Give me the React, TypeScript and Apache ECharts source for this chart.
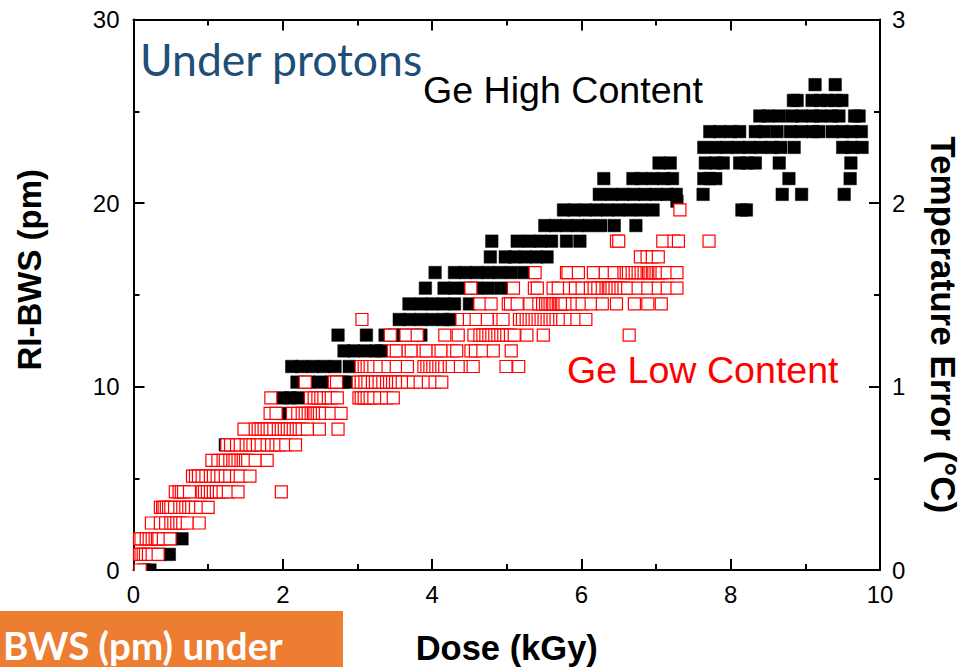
import React, { useEffect, useRef } from "react";
import * as echarts from "echarts";

const rowLevels = [0, 0.85, 1.7, 2.56, 3.41, 4.26, 5.12, 5.97, 6.82, 7.68, 8.53, 9.38, 10.24, 11.09, 11.94, 12.8, 13.65, 14.5, 15.36, 16.21, 17.06, 17.92, 18.77, 19.62, 20.47, 21.33, 22.18, 23.03, 23.89, 24.74, 25.59, 26.45];

const highDose: number[][] = [
  [0.14, 0.22],
  [0.35, 0.48],
  [0.5, 0.65],
  [], [], [], [], [],
  [1.23],
  [1.7, 1.9, 2.05],
  [2.0],
  [2.0, 2.1, 2.2],
  [2.19, 2.35, 2.5, 2.65, 2.8, 2.85],
  [2.12, 2.25, 2.4, 2.55, 2.7, 2.89],
  [2.82, 2.95, 3.1, 3.25, 3.32],
  [2.74, 3.12, 3.37, 3.5, 3.6, 3.75, 3.85],
  [3.56, 3.7, 3.85, 4.0, 4.15, 4.24],
  [3.69, 3.85, 4.0, 4.15, 4.3, 4.5],
  [3.91, 4.16, 4.3, 4.45, 4.6, 4.75, 4.92],
  [4.04, 4.3, 4.45, 4.6, 4.75, 4.9, 5.06, 5.23],
  [4.78, 4.98, 5.1, 5.25, 5.4, 5.54],
  [4.8, 5.14, 5.3, 5.45, 5.6, 5.8, 5.98],
  [5.51, 5.65, 5.8, 5.95, 6.1, 6.26, 6.44, 6.73],
  [5.76, 5.9, 6.05, 6.2, 6.35, 6.5, 6.65, 6.8, 6.96, 8.15, 8.21],
  [6.24, 6.4, 6.55, 6.7, 6.85, 7.0, 7.15, 7.27, 7.63, 8.69, 8.95, 9.52],
  [6.3, 6.69, 6.8, 6.95, 7.1, 7.22, 7.64, 7.72, 7.8, 8.78, 9.6],
  [7.04, 7.19, 7.66, 7.8, 7.9, 8.12, 8.22, 8.33, 8.65, 9.61],
  [7.64, 7.8, 7.95, 8.1, 8.25, 8.4, 8.55, 8.67, 8.85, 9.5, 9.62, 9.76],
  [7.72, 7.85, 8.0, 8.12, 8.33, 8.45, 8.62, 8.8, 8.95, 9.1, 9.18, 9.36, 9.5, 9.62, 9.75],
  [8.39, 8.5, 8.65, 8.82, 8.95, 9.1, 9.2, 9.35, 9.45, 9.66, 9.72],
  [8.84, 8.89, 9.09, 9.2, 9.3, 9.4, 9.49],
  [9.13, 9.4],
];

const highExtraDose = [7.28];
const highExtraLevel = [20.1];

const lowDose: number[][] = [
  [0.09],
  [0.08, 0.1, 0.13, 0.16, 0.2, 0.25, 0.33],
  [0.08, 0.1, 0.17, 0.21, 0.25, 0.29, 0.32, 0.34, 0.4, 0.49],
  [0.24, 0.36, 0.43, 0.5, 0.54, 0.58, 0.62, 0.66, 0.72, 0.88],
  [0.36, 0.39, 0.41, 0.44, 0.47, 0.5, 0.55, 0.62, 0.66, 0.7, 0.74, 0.78, 0.83, 0.9, 1.0],
  [0.56, 0.61, 0.64, 0.67, 0.75, 0.92, 0.95, 0.99, 1.03, 1.07, 1.11, 1.15, 1.2, 1.27, 1.4, 1.98],
  [0.79, 0.83, 0.87, 0.92, 0.97, 1.03, 1.07, 1.12, 1.17, 1.23, 1.29, 1.38, 1.43, 1.56],
  [1.05, 1.13, 1.2, 1.23, 1.29, 1.33, 1.36, 1.4, 1.44, 1.47, 1.5, 1.53, 1.63, 1.79],
  [1.25, 1.3, 1.38, 1.43, 1.51, 1.56, 1.6, 1.66, 1.71, 1.79, 1.85, 1.91, 1.96, 2.04, 2.17],
  [1.48, 1.63, 1.67, 1.71, 1.75, 1.79, 1.83, 1.88, 1.94, 1.98, 2.02, 2.06, 2.1, 2.14, 2.18, 2.22, 2.26, 2.33, 2.49, 2.74],
  [1.83, 1.91, 2.13, 2.2, 2.26, 2.3, 2.34, 2.38, 2.41, 2.43, 2.46, 2.49, 2.53, 2.57, 2.65, 2.78],
  [1.84, 2.37, 2.42, 2.47, 2.51, 2.55, 2.61, 2.65, 2.73, 3.02, 3.05, 3.09, 3.13, 3.17, 3.22, 3.3, 3.39, 3.48],
  [2.3, 2.69, 2.72, 3.01, 3.05, 3.1, 3.14, 3.2, 3.24, 3.29, 3.34, 3.39, 3.43, 3.47, 3.51, 3.55, 3.6, 3.67, 3.75, 3.84, 3.95, 4.04, 4.13],
  [3.05, 3.09, 3.13, 3.17, 3.22, 3.3, 3.41, 3.52, 3.67, 3.89, 3.93, 3.97, 4.01, 4.05, 4.09, 4.13, 4.17, 4.23, 4.27, 4.38, 4.51, 4.55, 4.99, 5.16],
  [3.48, 3.52, 3.68, 3.72, 3.88, 3.92, 4.08, 4.12, 4.28, 4.33, 4.52, 4.58, 4.68, 4.82, 5.06],
  [3.44, 3.65, 3.8, 4.17, 4.35, 4.56, 4.64, 4.68, 4.72, 4.76, 4.8, 4.84, 4.88, 4.92, 4.96, 5.0, 5.05, 5.1, 5.27, 5.49, 6.64],
  [3.06, 4.4, 4.5, 4.59, 4.74, 4.9, 4.95, 5.17, 5.21, 5.26, 5.3, 5.34, 5.38, 5.42, 5.46, 5.5, 5.54, 5.58, 5.62, 5.66, 5.71, 5.75, 5.85, 5.94, 6.06],
  [4.64, 4.79, 5.02, 5.05, 5.14, 5.31, 5.43, 5.48, 5.52, 5.55, 5.58, 5.61, 5.63, 5.66, 5.69, 5.71, 5.73, 5.75, 5.78, 5.88, 5.94, 6.01, 6.13, 6.28, 6.47, 6.71, 6.89, 7.07],
  [4.52, 5.09, 5.37, 5.41, 5.62, 5.69, 5.84, 5.92, 6.01, 6.12, 6.17, 6.22, 6.28, 6.33, 6.36, 6.38, 6.41, 6.45, 6.49, 6.53, 6.57, 6.62, 6.76, 6.89, 7.03, 7.15, 7.28],
  [5.38, 5.8, 5.82, 5.96, 6.16, 6.32, 6.44, 6.57, 6.6, 6.63, 6.68, 6.72, 6.76, 6.8, 6.84, 6.88, 6.9, 6.92, 6.95, 6.97, 7.0, 7.03, 7.05, 7.08, 7.15, 7.28],
  [6.79, 6.88, 6.95, 7.03],
  [6.47, 6.5, 7.09, 7.24, 7.3, 7.71],
  [],
  [7.32],
];

const xTicks = { min: 0, max: 10, interval: 2 };
const leftTicks = { min: 0, max: 30, interval: 10 };
const rightTicks = { min: 0, max: 3, interval: 1 };

const toPoints = (rows: number[][]) =>
  rows.flatMap((doses, i) => doses.map((d) => [d, rowLevels[i]]));

const axisBase = {
  axisLine: { show: true, onZero: false, lineStyle: { color: "#000", width: 2 } },
  axisTick: { show: true, inside: true, length: 11, lineStyle: { color: "#000", width: 2 } },
  minorTick: { show: true, splitNumber: 2, length: 6, lineStyle: { color: "#000", width: 2 } },
  splitLine: { show: false },
  minorSplitLine: { show: false },
};

const labelStyle = { color: "#000", fontSize: 24, fontFamily: "Liberation Sans" };
const nameStyle = { color: "#000", fontWeight: "bold" as const, fontFamily: "Liberation Sans" };

export default function App() {
  const ref = useRef<HTMLDivElement>(null);
  useEffect(() => {
    document.body.style.margin = "0";
    const chart = echarts.init(ref.current!, undefined, { renderer: "svg" });
    chart.setOption({
      animation: false,
      backgroundColor: "#fff",
      grid: { left: 133.5, right: 89, top: 19.5, bottom: 97, containLabel: false, outerBoundsMode: "none" },
      xAxis: [
        {
          type: "value", position: "bottom", ...xTicks, ...axisBase,
          name: "Dose (kGy)", nameLocation: "middle", nameGap: 60,
          nameTextStyle: { ...nameStyle, fontSize: 34.5 },
          axisLabel: { ...labelStyle, margin: 12 },
        },
        {
          type: "value", position: "top", ...xTicks, ...axisBase,
          axisLabel: { show: false },
        },
      ],
      yAxis: [
        {
          type: "value", position: "left", ...leftTicks, ...axisBase,
          name: "RI-BWS (pm)", nameLocation: "middle", nameGap: 88, nameRotate: 90,
          nameTextStyle: { ...nameStyle, fontSize: 33, padding: [0, 0, 0, 50] },
          axisLabel: { ...labelStyle, margin: 14 },
        },
        {
          type: "value", position: "right", ...rightTicks, ...axisBase,
          name: "Temperature Error (°C)", nameLocation: "middle", nameGap: 46, nameRotate: -90,
          nameTextStyle: { ...nameStyle, fontSize: 35, padding: [0, 0, 0, 60] },
          axisLabel: { ...labelStyle, margin: 12 },
        },
      ],
      series: [
        {
          name: "Ge High Content", type: "scatter", symbol: "rect", symbolSize: 12.5, clip: true,
          xAxisIndex: 0, yAxisIndex: 0,
          itemStyle: { color: "#000", borderColor: "#000", borderWidth: 0.5, opacity: 1 },
          data: [...toPoints(highDose), ...highExtraDose.map((d, i) => [d, highExtraLevel[i]])],
        },
        {
          name: "Ge Low Content", type: "scatter", symbol: "rect", symbolSize: 12, clip: true,
          xAxisIndex: 0, yAxisIndex: 0,
          itemStyle: { color: "#fff", borderColor: "#f00", borderWidth: 1.2, opacity: 1 },
          data: toPoints(lowDose),
        },
      ],
      graphic: [
        { type: "rect", z: 10, shape: { x: 130, y: 571, width: 40, height: 7 }, style: { fill: "#fff" } },
        { type: "rect", z: 10, shape: { x: 0, y: 611, width: 343, height: 56 }, style: { fill: "#ED7D31" } },
        { type: "text", z: 11, x: 3, y: 645, style: { text: "BWS (pm) under", fill: "#fff", font: "bold 38.5px Lato", textVerticalAlign: "middle" } },
        { type: "text", z: 11, x: 140, y: 58, style: { text: "Under protons", fill: "#1F4E79", font: "44.5px Lato", textVerticalAlign: "middle" } },
        { type: "text", z: 11, x: 423, y: 90, style: { text: "Ge High Content", fill: "#000", font: "37.6px Liberation Sans", textVerticalAlign: "middle" } },
        { type: "text", z: 11, x: 567, y: 370, style: { text: "Ge Low Content", fill: "#f00", font: "37.6px Liberation Sans", textVerticalAlign: "middle" } },
      ],
    });
    return () => chart.dispose();
  }, []);
  return <div ref={ref} style={{ width: 969, height: 667, overflow: "hidden" }} />;
}
